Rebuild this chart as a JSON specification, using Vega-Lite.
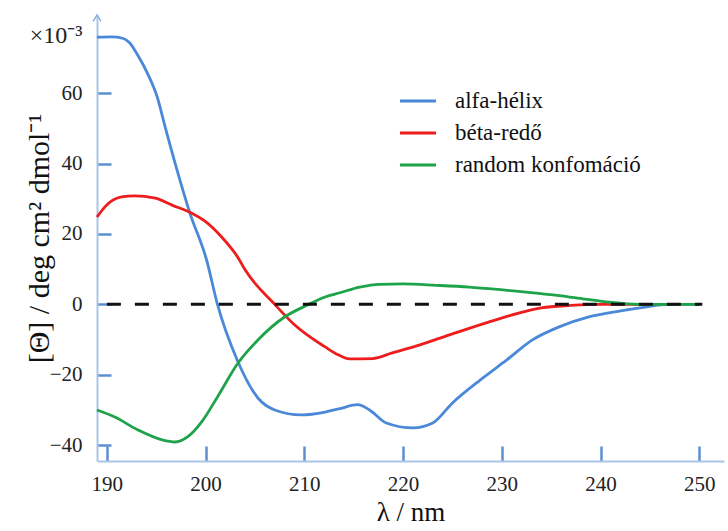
{
  "$schema": "https://vega.github.io/schema/vega-lite/v6.json",
  "width": 627,
  "height": 446,
  "autosize": "none",
  "padding": {"left": 97, "top": 15, "right": 4, "bottom": 70},
  "background": "white",
  "config": {"view": {"stroke": null}, "font": "Liberation Serif"},
  "datasets": {
    "curves": [
      {"series": "alfa-hélix", "wavelength": 189.0, "theta": 75.9},
      {"series": "alfa-hélix", "wavelength": 190.5, "theta": 76.0},
      {"series": "alfa-hélix", "wavelength": 191.6, "theta": 75.6},
      {"series": "alfa-hélix", "wavelength": 192.3, "theta": 74.3},
      {"series": "alfa-hélix", "wavelength": 193.1, "theta": 70.9},
      {"series": "alfa-hélix", "wavelength": 194.1, "theta": 65.7},
      {"series": "alfa-hélix", "wavelength": 195.1, "theta": 58.9},
      {"series": "alfa-hélix", "wavelength": 195.9, "theta": 50.4},
      {"series": "alfa-hélix", "wavelength": 197.1, "theta": 38.2},
      {"series": "alfa-hélix", "wavelength": 198.4, "theta": 26.0},
      {"series": "alfa-hélix", "wavelength": 200.1, "theta": 12.6},
      {"series": "alfa-hélix", "wavelength": 201.2, "theta": 0.0},
      {"series": "alfa-hélix", "wavelength": 203.2, "theta": -15.8},
      {"series": "alfa-hélix", "wavelength": 205.3, "theta": -26.6},
      {"series": "alfa-hélix", "wavelength": 207.0, "theta": -30.0},
      {"series": "alfa-hélix", "wavelength": 209.7, "theta": -31.4},
      {"series": "alfa-hélix", "wavelength": 212.1, "theta": -30.6},
      {"series": "alfa-hélix", "wavelength": 213.6, "theta": -29.6},
      {"series": "alfa-hélix", "wavelength": 215.4, "theta": -28.5},
      {"series": "alfa-hélix", "wavelength": 216.6, "theta": -30.0},
      {"series": "alfa-hélix", "wavelength": 218.3, "theta": -33.7},
      {"series": "alfa-hélix", "wavelength": 221.0, "theta": -35.1},
      {"series": "alfa-hélix", "wavelength": 223.0, "theta": -33.7},
      {"series": "alfa-hélix", "wavelength": 225.0, "theta": -28.0},
      {"series": "alfa-hélix", "wavelength": 227.8, "theta": -21.5},
      {"series": "alfa-hélix", "wavelength": 230.5, "theta": -15.8},
      {"series": "alfa-hélix", "wavelength": 233.1, "theta": -10.1},
      {"series": "alfa-hélix", "wavelength": 235.8, "theta": -6.4},
      {"series": "alfa-hélix", "wavelength": 238.9, "theta": -3.5},
      {"series": "alfa-hélix", "wavelength": 241.9, "theta": -1.9},
      {"series": "alfa-hélix", "wavelength": 244.7, "theta": -0.7},
      {"series": "alfa-hélix", "wavelength": 246.7, "theta": 0.0},
      {"series": "alfa-hélix", "wavelength": 250.0, "theta": 0.0},
      {"series": "béta-redő", "wavelength": 189.0, "theta": 24.8},
      {"series": "béta-redő", "wavelength": 189.8, "theta": 27.7},
      {"series": "béta-redő", "wavelength": 191.5, "theta": 30.5},
      {"series": "béta-redő", "wavelength": 192.8, "theta": 30.8},
      {"series": "béta-redő", "wavelength": 194.9, "theta": 30.2},
      {"series": "béta-redő", "wavelength": 196.6, "theta": 28.2},
      {"series": "béta-redő", "wavelength": 198.6, "theta": 25.9},
      {"series": "béta-redő", "wavelength": 199.9, "theta": 23.7},
      {"series": "béta-redő", "wavelength": 201.6, "theta": 19.2},
      {"series": "béta-redő", "wavelength": 203.3, "theta": 13.2},
      {"series": "béta-redő", "wavelength": 204.0, "theta": 9.8},
      {"series": "béta-redő", "wavelength": 207.0, "theta": 0.0},
      {"series": "béta-redő", "wavelength": 209.0, "theta": -5.8},
      {"series": "béta-redő", "wavelength": 212.1, "theta": -12.1},
      {"series": "béta-redő", "wavelength": 213.2, "theta": -14.0},
      {"series": "béta-redő", "wavelength": 214.6, "theta": -15.5},
      {"series": "béta-redő", "wavelength": 216.9, "theta": -15.4},
      {"series": "béta-redő", "wavelength": 218.9, "theta": -13.8},
      {"series": "béta-redő", "wavelength": 221.7, "theta": -11.5},
      {"series": "béta-redő", "wavelength": 225.0, "theta": -8.4},
      {"series": "béta-redő", "wavelength": 228.5, "theta": -5.2},
      {"series": "béta-redő", "wavelength": 231.8, "theta": -2.4},
      {"series": "béta-redő", "wavelength": 234.0, "theta": -1.0},
      {"series": "béta-redő", "wavelength": 237.0, "theta": -0.3},
      {"series": "béta-redő", "wavelength": 240.0, "theta": 0.0},
      {"series": "béta-redő", "wavelength": 245.0, "theta": 0.0},
      {"series": "random konfomáció", "wavelength": 189.0, "theta": -30.0},
      {"series": "random konfomáció", "wavelength": 190.8, "theta": -32.0},
      {"series": "random konfomáció", "wavelength": 193.1, "theta": -35.6},
      {"series": "random konfomáció", "wavelength": 195.6, "theta": -38.5},
      {"series": "random konfomáció", "wavelength": 196.9, "theta": -39.1},
      {"series": "random konfomáció", "wavelength": 198.2, "theta": -37.6},
      {"series": "random konfomáció", "wavelength": 199.6, "theta": -33.4},
      {"series": "random konfomáció", "wavelength": 201.2, "theta": -26.3},
      {"series": "random konfomáció", "wavelength": 203.3, "theta": -16.6},
      {"series": "random konfomáció", "wavelength": 205.3, "theta": -10.1},
      {"series": "random konfomáció", "wavelength": 208.0, "theta": -3.6},
      {"series": "random konfomáció", "wavelength": 210.3, "theta": -0.2},
      {"series": "random konfomáció", "wavelength": 212.1, "theta": 2.1},
      {"series": "random konfomáció", "wavelength": 213.6, "theta": 3.3},
      {"series": "random konfomáció", "wavelength": 215.6, "theta": 4.9},
      {"series": "random konfomáció", "wavelength": 217.6, "theta": 5.7},
      {"series": "random konfomáció", "wavelength": 220.0, "theta": 5.8},
      {"series": "random konfomáció", "wavelength": 223.4, "theta": 5.4},
      {"series": "random konfomáció", "wavelength": 226.7, "theta": 4.9},
      {"series": "random konfomáció", "wavelength": 230.1, "theta": 4.1},
      {"series": "random konfomáció", "wavelength": 233.5, "theta": 3.2},
      {"series": "random konfomáció", "wavelength": 235.8, "theta": 2.5},
      {"series": "random konfomáció", "wavelength": 238.4, "theta": 1.5},
      {"series": "random konfomáció", "wavelength": 240.9, "theta": 0.6},
      {"series": "random konfomáció", "wavelength": 243.9, "theta": 0.0},
      {"series": "random konfomáció", "wavelength": 250.0, "theta": 0.0}
    ],
    "zero": [{"wavelength": 190.0, "wavelength2": 250.3, "theta": 0}],
    "arrow": [{"wavelength": 189.0, "theta": 82.2}]
  },
  "layer": [
    {
      "data": {"name": "curves"},
      "mark": {"type": "line", "strokeWidth": 2.8, "interpolate": "monotone"},
      "encoding": {
        "x": {
          "field": "wavelength",
          "type": "quantitative",
          "scale": {"domain": [189, 252.5], "nice": false, "zero": false},
          "axis": {
            "values": [190, 200, 210, 220, 230, 240, 250],
            "format": "d",
            "grid": false,
            "tickSize": -15,
            "tickWidth": 2.5,
            "tickColor": "#5b8fd0",
            "domainColor": "#a9c5e8",
            "domainWidth": 2,
            "labelFont": "Liberation Serif",
            "labelFontSize": 21,
            "labelColor": "#222222",
            "labelPadding": 27,
            "labelFlush": false,
            "title": "λ / nm",
            "titleFont": "Liberation Serif",
            "titleFontSize": 27,
            "titleFontWeight": "normal",
            "titleColor": "#111111",
            "titlePadding": 5
          }
        },
        "y": {
          "field": "theta",
          "type": "quantitative",
          "scale": {"domain": [-44.5, 82.2], "nice": false, "zero": false},
          "axis": {
            "values": [-40, -20, 0, 20, 40, 60, 76.5],
            "labelExpr": "datum.value > 70 ? '×10⁻³' : datum.label",
            "tickOpacity": {"condition": {"test": "datum.value > 70", "value": 0}, "value": 1},
            "labelFontSize": {"condition": {"test": "datum.value > 70", "value": 24}, "value": 21},
            "grid": false,
            "tickSize": -14,
            "tickWidth": 2.5,
            "tickColor": "#5b8fd0",
            "domainColor": "#a9c5e8",
            "domainWidth": 2,
            "labelFont": "Liberation Serif",
            "labelColor": "#222222",
            "labelPadding": 29,
            "title": "[Θ] / deg cm² dmol⁻¹",
            "titleFont": "Liberation Serif",
            "titleFontSize": 30,
            "titleFontWeight": "normal",
            "titleColor": "#111111",
            "titlePadding": -25
          }
        },
        "color": {
          "field": "series",
          "type": "nominal",
          "scale": {
            "domain": ["alfa-hélix", "béta-redő", "random konfomáció"],
            "range": ["#4a88d8", "#ee1d1d", "#1ea34a"]
          },
          "legend": {
            "orient": "none",
            "legendX": 301,
            "legendY": 66,
            "title": null,
            "padding": 0,
            "symbolType": "stroke",
            "symbolSize": 1300,
            "symbolStrokeWidth": 3,
            "labelFont": "Liberation Serif",
            "labelFontSize": 23,
            "labelColor": "#111111",
            "labelOffset": 17,
            "labelLimit": 0,
            "rowPadding": 0
          }
        }
      }
    },
    {
      "data": {"name": "zero"},
      "mark": {"type": "rule", "strokeDash": [14, 14], "strokeWidth": 3, "color": "#111111"},
      "encoding": {
        "x": {"field": "wavelength", "type": "quantitative"},
        "x2": {"field": "wavelength2"},
        "y": {"field": "theta", "type": "quantitative"}
      }
    },
    {
      "data": {"name": "arrow"},
      "mark": {"type": "point", "shape": "M-1,1.6L0,0L1,1.6", "filled": false, "stroke": "#8fb3e0", "strokeWidth": 1.5, "size": 64, "opacity": 1},
      "encoding": {
        "x": {"field": "wavelength", "type": "quantitative"},
        "y": {"field": "theta", "type": "quantitative"}
      }
    }
  ]
}
